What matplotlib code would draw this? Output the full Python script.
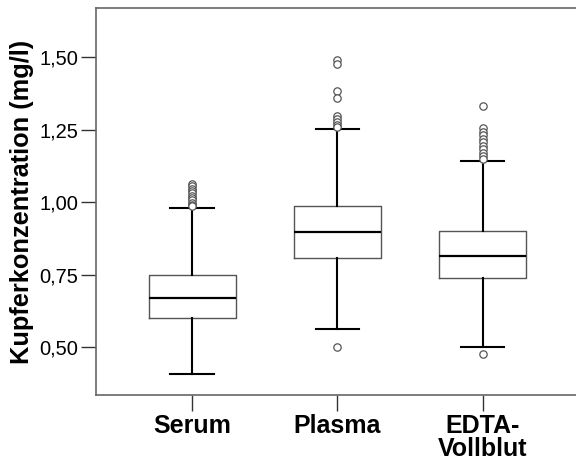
import matplotlib
matplotlib.use("Agg")
import matplotlib.pyplot as plt
from matplotlib.ticker import FixedLocator

plt.rcParams['font.family'] = ['Liberation Sans', 'DejaVu Sans']

categories = ["Serum", "Plasma", "EDTA-\nVollblut"]
medians = [0.67, 0.895, 0.814]
q1 = [0.599, 0.806, 0.739]
q3 = [0.750, 0.986, 0.901]
whisker_low = [0.406, 0.563, 0.501]
whisker_high = [0.980, 1.251, 1.141]
outliers_serum = [1.062, 1.054, 1.046, 1.038, 1.030, 1.022, 1.014, 1.006, 0.998, 0.990, 0.985]
outliers_plasma = [1.490, 1.476, 1.384, 1.360, 1.296, 1.285, 1.275, 1.265, 1.258, 0.501]
outliers_edta = [1.331, 1.254, 1.242, 1.230, 1.218, 1.206, 1.194, 1.182, 1.170, 1.160, 1.150, 0.475]
outliers = [outliers_serum, outliers_plasma, outliers_edta]
yticks = [0.50, 0.75, 1.00, 1.25, 1.50]
ytick_labels = ["0,50", "0,75", "1,00", "1,25", "1,50"]
ylabel = "Kupferkonzentration (mg/l)"

fig = plt.figure(figsize=(5.76, 4.66), dpi=100)
ax = fig.add_axes([96/576, 71/466, 484/576, 387/466])

stats = []
for i in range(len(categories)):
    stats.append(dict(med=medians[i], q1=q1[i], q3=q3[i],
                      whislo=whisker_low[i], whishi=whisker_high[i],
                      fliers=outliers[i], label=categories[i]))

positions = [1, 2, 3]
ax.bxp(stats, positions=positions, widths=0.6, capwidths=0.3,
       boxprops=dict(color="#555555", linewidth=1.0),
       medianprops=dict(color="black", linewidth=1.6),
       whiskerprops=dict(color="black", linewidth=1.5),
       capprops=dict(color="black", linewidth=1.5),
       flierprops=dict(marker="o", markersize=5.3, markerfacecolor="white",
                       markeredgecolor="#555555", markeredgewidth=0.9))

ax.set_xlim(1 - 96.3/145.3, 1 + (580 - 192)/145.3)
ax.set_ylim(0.3345, 1.669)
ax.yaxis.set_major_locator(FixedLocator(yticks))
ax.set_yticklabels(ytick_labels, fontsize=14.5)
ax.set_xticks(positions)
ax.set_xticklabels(categories, fontsize=18, fontweight="bold", linespacing=0.95)
ax.set_ylabel(ylabel, fontsize=18.3, fontweight="bold", labelpad=4)

ax.tick_params(axis='y', length=11, width=1.0, color="#333333", pad=2)
ax.tick_params(axis='x', length=11.5, width=1.0, color="#333333", pad=2)
for s in ["left", "top", "bottom"]:
    ax.spines[s].set_color("#666666")
    ax.spines[s].set_linewidth(1.2)
ax.spines["right"].set_visible(False)

fig.savefig("out.png", dpi=100)
